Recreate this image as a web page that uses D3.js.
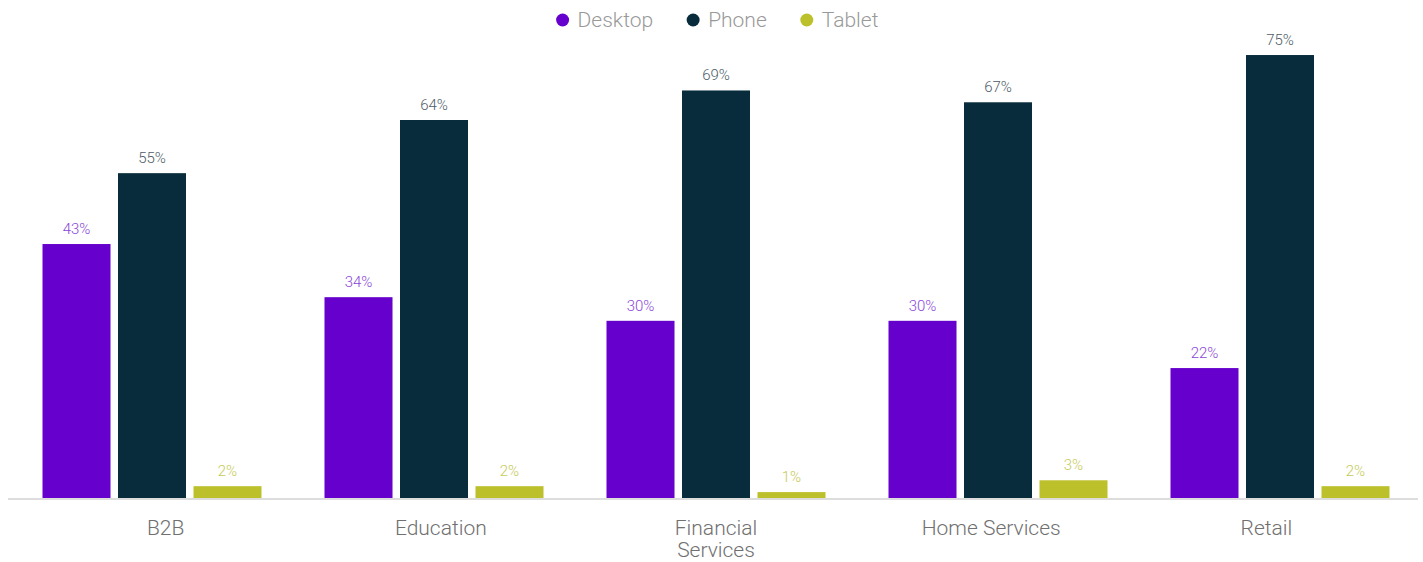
<!DOCTYPE html>
<html>
<head>
<meta charset="utf-8">
<script src="https://cdn.jsdelivr.net/npm/d3@7"></script>
<style>
  html, body { margin: 0; padding: 0; background: #fff; }
  svg { display: block; font-family: Roboto, "Noto Sans", sans-serif; }
</style>
</head>
<body>
<svg id="chart" width="1423" height="562"></svg>
<script>
// Share of visits by device, per industry (%)
const categories = ["B2B", "Education", "Financial Services", "Home Services", "Retail"];
const seriesNames = ["Desktop", "Phone", "Tablet"];
const desktop = [43, 34, 30, 30, 22];
const phone   = [55, 64, 69, 67, 75];
const tablet  = [2, 2, 1, 3, 2];
const seriesValues = [desktop, phone, tablet];

const barColors   = ["#6600cc", "#082c3c", "#bcc02a"];
const labelColors = ["#8b45d9", "#4d5c66", "#c5ca55"];

const W = 1423, H = 562;
const svg = d3.select("#chart");

const x0 = d3.scaleBand().domain(categories).range([8, 1418]).paddingInner(0).paddingOuter(0);
const x1 = d3.scaleBand().domain(seriesNames).range([34.5, 253.5]).paddingInner(0.0993).paddingOuter(0);
const y = d3.scaleLinear().domain([0, 80]).range([498, 25.5]);
// category tick labels sit on a slightly narrower band than the bar groups
const xLabel = d3.scaleBand().domain(categories).range([28, 1404]);

// bars
const groups = svg.append("g").selectAll("g")
  .data(categories)
  .join("g")
  .attr("transform", d => `translate(${x0(d)},0)`);

groups.selectAll("rect")
  .data((c, i) => seriesNames.map((s, j) => ({ s, j, v: seriesValues[j][i] })))
  .join("rect")
  .attr("x", d => x1(d.s))
  .attr("width", x1.bandwidth())
  .attr("y", d => y(d.v))
  .attr("height", d => y(0) - y(d.v))
  .attr("fill", d => barColors[d.j]);

groups.selectAll("text")
  .data((c, i) => seriesNames.map((s, j) => ({ s, j, v: seriesValues[j][i] })))
  .join("text")
  .attr("x", d => x1(d.s) + x1.bandwidth() / 2)
  .attr("y", d => y(d.v) - 10)
  .attr("text-anchor", "middle")
  .attr("font-size", 15)
  .attr("font-weight", 300)
  .attr("fill", d => labelColors[d.j])
  .text(d => d.v + "%");

// baseline
svg.append("line")
  .attr("x1", 8).attr("x2", 1418)
  .attr("y1", y(0) + 1).attr("y2", y(0) + 1)
  .attr("stroke", "#dddddd").attr("stroke-width", 2);

// category axis
const xAxis = d3.axisBottom(xLabel).tickSize(0).tickPadding(0);
const axisG = svg.append("g").attr("transform", `translate(0,${y(0)})`).call(xAxis);
axisG.select(".domain").remove();
axisG.selectAll(".tick text")
  .attr("font-family", "Roboto, sans-serif")
  .attr("font-size", 21)
  .attr("font-weight", 300)
  .attr("fill", "#707070")
  .attr("dy", null)
  .attr("y", 0)
  .each(function(d) {
    const t = d3.select(this);
    const words = d === "Financial Services" ? ["Financial", "Services"] : [d];
    t.text(null);
    words.forEach((w, k) => {
      t.append("tspan").attr("x", 0).attr("y", 37 + k * 22).text(w);
    });
  });

// legend
const legend = svg.append("g");
let lx = 0;
seriesNames.forEach((s, j) => {
  const g = legend.append("g");
  g.append("circle").attr("cx", 6).attr("cy", 20).attr("r", 6.5).attr("fill", barColors[j]);
  const t = g.append("text").attr("x", 21).attr("y", 27)
    .attr("font-size", 21).attr("font-weight", 300).attr("fill", "#999999").text(s);
  g.attr("transform", `translate(${lx},0)`);
  lx += 21 + t.node().getComputedTextLength() + 34;
});
const legendWidth = lx - 34;
legend.attr("transform", `translate(${(W - legendWidth) / 2 + 6},0)`);
</script>
</body>
</html>
